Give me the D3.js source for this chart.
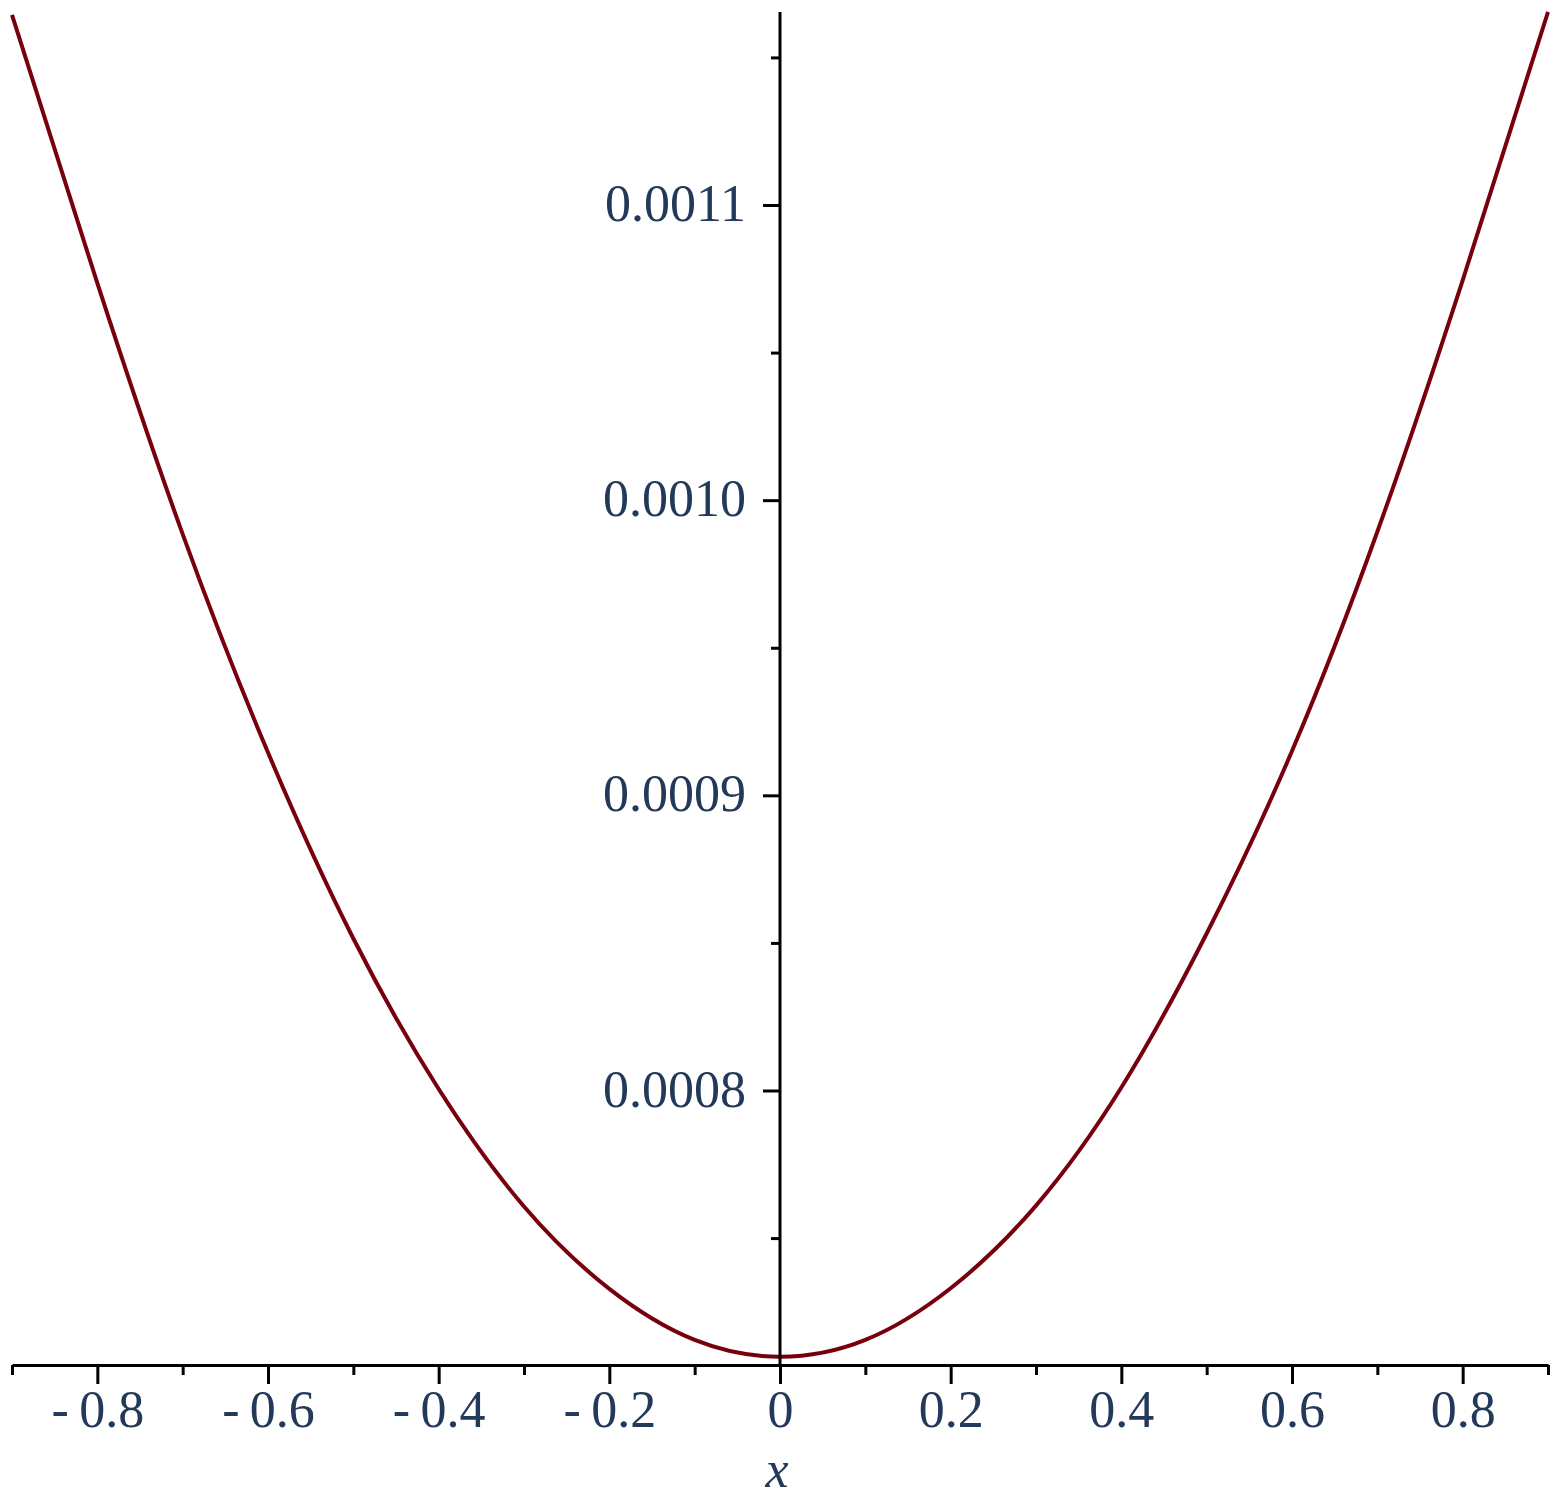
<!DOCTYPE html>
<html>
<head>
<meta charset="utf-8">
<script src="https://cdn.jsdelivr.net/npm/d3@7"></script>
<style>
  body { margin: 0; background: #fff; }
  svg { display: block; }
  .lbl { font-family: "Liberation Serif", "Times New Roman", serif; font-size: 52px; fill: #22395a; }
</style>
</head>
<body>
<svg width="1559" height="1501"></svg>
<script>
// values
var xs = [-0.9, -0.8, -0.7, -0.6, -0.5, -0.4, -0.3, -0.2, -0.1, 0, 0.1, 0.2, 0.3, 0.4, 0.5, 0.6, 0.7, 0.8, 0.9];
var ys = [0.0011644, 0.0010735, 0.0009885, 0.0009145, 0.0008515, 0.0008005, 0.0007607, 0.0007328, 0.0007155, 0.0007098,
          0.0007155, 0.000733, 0.000761, 0.000801, 0.0008532, 0.000915, 0.0009893, 0.0010745, 0.0011654];

var xMajor = [-0.8, -0.6, -0.4, -0.2, 0, 0.2, 0.4, 0.6, 0.8];
var xMinor = [-0.9, -0.7, -0.5, -0.3, -0.1, 0.1, 0.3, 0.5, 0.7, 0.9];
var yMajor = [0.0008, 0.0009, 0.0010, 0.0011];
var yMinor = [0.00075, 0.00085, 0.00095, 0.00105, 0.00115];
var yLabels = ["0.0008", "0.0009", "0.0010", "0.0011"];

var svg = d3.select("svg");

var x = d3.scaleLinear()
    .domain([-0.9, 0.9])
    .range([12, 1548]);

var y = d3.scaleLinear()
    .domain([0.0008, 0.0011])
    .range([1090.5, 205]);

var yBase = 0.000707,
    yTop = y.invert(12);

var curveLine = d3.line()
    .x(function(d) { return x(d[0]); })
    .y(function(d) { return y(d[1]); })
    .curve(d3.curveNatural);

svg.append("path")
    .datum(d3.zip(xs, ys))
    .attr("fill", "none")
    .attr("stroke", "#78000E")
    .attr("stroke-width", 4)
    .attr("d", curveLine);

// x axis, minor ticks then major ticks with labels
var xAxisG = svg.append("g")
    .attr("transform", "translate(0," + y(yBase) + ")");

xAxisG.append("g")
    .call(d3.axisBottom(x).tickValues(xMinor).tickSize(10).tickSizeOuter(0).tickFormat(""))
    .call(function(g) { g.select(".domain").remove(); })
    .selectAll("line").attr("stroke", "#000").attr("stroke-width", 3);

xAxisG.append("g")
    .call(d3.axisBottom(x).tickValues(xMajor).tickSize(19).tickSizeOuter(0)
      .tickFormat(function(d) { return d < 0 ? "-\u2009" + d3.format(".1f")(-d) : (d === 0 ? "0" : d3.format(".1f")(d)); }))
    .call(function(g) {
      g.select(".domain").attr("stroke", "#000").attr("stroke-width", 3);
      g.selectAll("line").attr("stroke", "#000").attr("stroke-width", 3);
      g.selectAll("text")
        .attr("class", "lbl")
        .attr("y", 62)
        .attr("dy", null)
        .attr("font-size", null)
        .attr("font-family", null)
        .attr("fill", null);
    });

svg.append("text")
    .attr("class", "lbl")
    .attr("x", x(0) - 3)
    .attr("y", 1487)
    .attr("text-anchor", "middle")
    .attr("font-style", "italic")
    .text("x");

// y axis
var yAxisG = svg.append("g")
    .attr("transform", "translate(" + x(0) + ",0)");

yAxisG.append("line")
    .attr("x1", 0).attr("x2", 0)
    .attr("y1", y(yTop)).attr("y2", y(yBase) + 1.5)
    .attr("stroke", "#000")
    .attr("stroke-width", 3);

yAxisG.append("g")
    .call(d3.axisLeft(y).tickValues(yMinor).tickSize(9).tickFormat(""))
    .call(function(g) { g.select(".domain").remove(); })
    .selectAll("line").attr("stroke", "#000").attr("stroke-width", 3);

yAxisG.append("g")
    .call(d3.axisLeft(y).tickValues(yMajor).tickSize(17)
      .tickFormat(function(d, i) { return yLabels[i]; }))
    .call(function(g) {
      g.select(".domain").remove();
      g.selectAll("line").attr("stroke", "#000").attr("stroke-width", 3);
      g.selectAll("text")
        .attr("class", "lbl")
        .attr("x", -34)
        .attr("dy", "0.3em")
        .attr("font-size", null)
        .attr("font-family", null)
        .attr("fill", null);
    });
</script>
</body>
</html>
